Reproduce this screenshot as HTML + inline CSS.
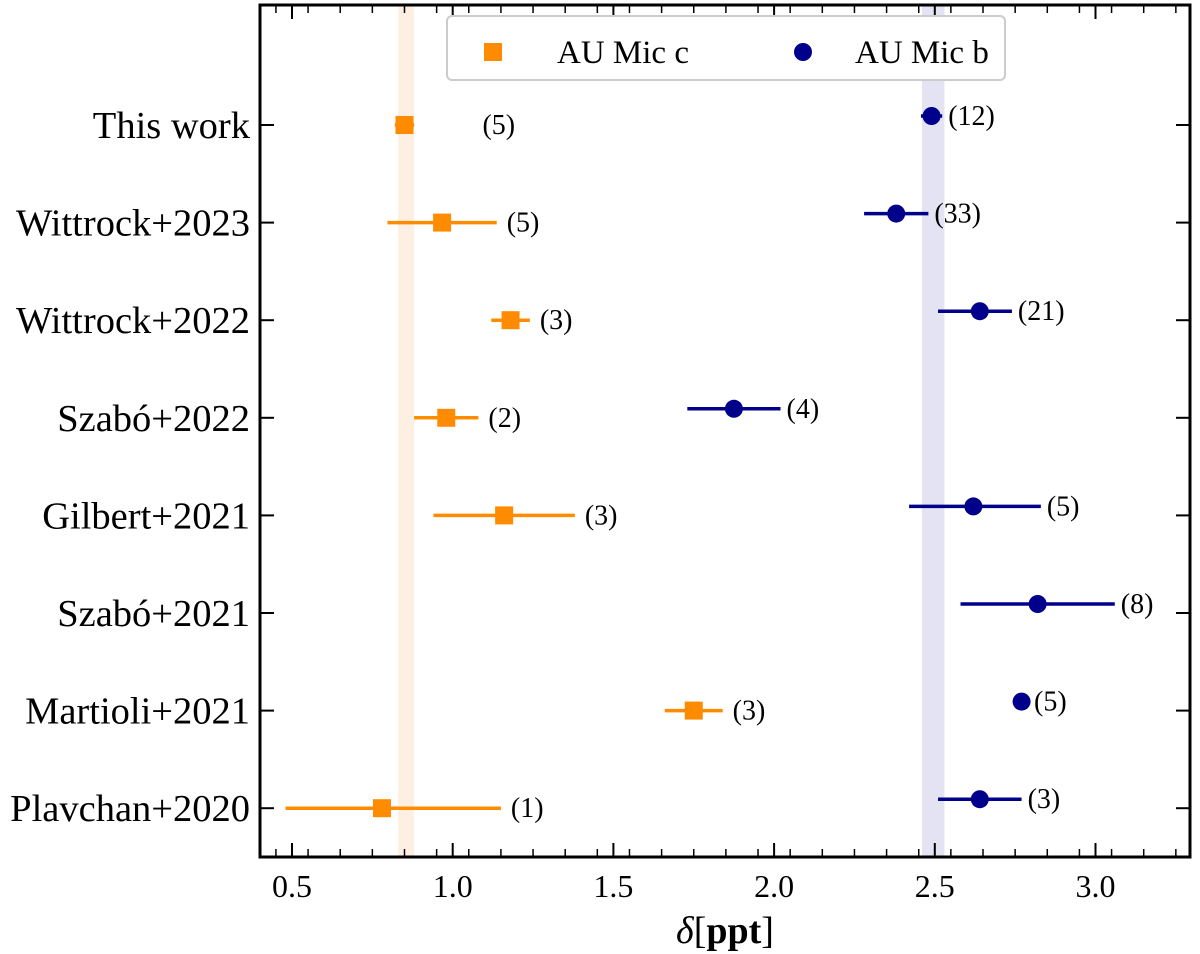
<!DOCTYPE html>
<html><head><meta charset="utf-8">
<style>
body{margin:0;background:#fff;}
svg{display:block;font-family:"Liberation Serif",serif;}
</style></head>
<body>
<svg id="chart" width="1200" height="954" viewBox="0 0 1200 954">
<g id="bands"></g>
<g id="marks"></g>
<g id="axes"></g>
</svg>
<script>
const studies = ["This work","Wittrock+2023","Wittrock+2022","Szabó+2022","Gilbert+2021","Szabó+2021","Martioli+2021","Plavchan+2020"];
const cVal = [0.85,0.967,1.18,0.98,1.16,1.75,0.78];
const cLo  = [0.03,0.17,0.06,0.10,0.22,0.09,0.30];
const cHi  = [0.03,0.17,0.06,0.10,0.22,0.09,0.37];
const cN   = ["(5)","(5)","(3)","(2)","(3)","(3)","(1)"];
const cRows = [0,1,2,3,4,6,7];
const bVal = [2.49,2.38,2.64,1.875,2.62,2.82,2.77,2.64];
const bLo  = [0.033,0.10,0.13,0.145,0.20,0.24,0.02,0.13];
const bHi  = [0.033,0.10,0.10,0.145,0.21,0.24,0.02,0.13];
const bN   = ["(12)","(33)","(21)","(4)","(5)","(8)","(5)","(3)"];
const cBand = [0.83,0.88];
const bBand = [2.46,2.53];
const xTicks = [0.5,1.0,1.5,2.0,2.5,3.0];

const NS="http://www.w3.org/2000/svg";
const L=260,R=1190,T=5,B=857;
const x=v=>292+(v-0.5)*321.4;
const y=i=>125+i*97.6;
function mk(tag,attrs,parent){const e=document.createElementNS(NS,tag);for(const k in attrs)e.setAttribute(k,attrs[k]);parent.appendChild(e);return e;}
const bands=document.getElementById('bands'),marks=document.getElementById('marks'),axes=document.getElementById('axes');

let e=mk('rect',{x:x(cBand[0]),y:T,width:x(cBand[1])-x(cBand[0]),height:B-T,fill:'#fdf0e2'},bands);


e=mk('rect',{x:x(bBand[0]),y:T,width:x(bBand[1])-x(bBand[0]),height:B-T,fill:'#e3e3f3'},bands);



cVal.forEach((v,k)=>{
  const yy=y(cRows[k]);
  let l=mk('line',{x1:x(v-cLo[k]),x2:x(v+cHi[k]),y1:yy,y2:yy,stroke:'#ff8c00','stroke-width':3.5},marks);
  
  
  let s=mk('rect',{x:x(v)-9,y:yy-9,width:18,height:18,fill:'#ff8c00'},marks);
  
  
  const lx = k===0 ? x(v)+78 : x(v+cHi[k])+10;
  let t=mk('text',{x:lx,y:yy+9,'font-size':28},marks);t.textContent=cN[k];
  
  
});
bVal.forEach((v,k)=>{
  const yy=y(k)-9;
  let l=mk('line',{x1:x(v-bLo[k]),x2:x(v+bHi[k]),y1:yy,y2:yy,stroke:'#00008b','stroke-width':3.5},marks);
  
  
  let c=mk('circle',{cx:x(v),cy:yy,r:9,fill:'#00008b'},marks);
  
  
  let t=mk('text',{x:x(v+bHi[k])+6,y:yy+9,'font-size':28},marks);t.textContent=bN[k];
  
  
});

let f=mk('rect',{x:L,y:T,width:R-L,height:B-T,fill:'none',stroke:'#000','stroke-width':3},axes);


for(let v=0.45;v<=3.3;v+=0.1){
  const xv=x(Math.round(v*100)/100);
  if(xv<L||xv>R)continue;
  mk('line',{x1:xv,x2:xv,y1:B,y2:B-8,stroke:'#000','stroke-width':1.5},axes);
  mk('line',{x1:xv,x2:xv,y1:T,y2:T+8,stroke:'#000','stroke-width':1.5},axes);
}
xTicks.forEach(v=>{
  mk('line',{x1:x(v),x2:x(v),y1:B,y2:B-14,stroke:'#000','stroke-width':2},axes);
  mk('line',{x1:x(v),x2:x(v),y1:T,y2:T+14,stroke:'#000','stroke-width':2},axes);
  let t=mk('text',{x:x(v),y:897,'font-size':32,'text-anchor':'middle'},axes);t.textContent=v.toFixed(1);
  
  
});
studies.forEach((s,i)=>{
  mk('line',{x1:L,x2:L+14,y1:y(i),y2:y(i),stroke:'#000','stroke-width':2},axes);
  mk('line',{x1:R,x2:R-14,y1:y(i),y2:y(i),stroke:'#000','stroke-width':2},axes);
  let t=mk('text',{x:250,y:y(i)+13,'font-size':38.5,'text-anchor':'end'},axes);t.textContent=s;
  
  
});
let xt=mk('text',{x:725,y:943,'font-size':38,'text-anchor':'middle'},axes);
xt.innerHTML='<tspan font-style="italic">δ</tspan>[<tspan font-weight="bold">ppt</tspan>]';



const lg=mk('g',{},axes);


mk('rect',{x:447,y:16,width:558,height:64,rx:5,fill:'#fff',stroke:'#ccc','stroke-width':2},lg);
let le=mk('g',{},lg);


mk('rect',{x:484,y:43,width:18,height:18,fill:'#ff8c00'},le);
let lt=mk('text',{x:557,y:63,'font-size':33},le);lt.textContent='AU Mic c';
let le2=mk('g',{},lg);


mk('circle',{cx:803,cy:52,r:9,fill:'#00008b'},le2);
lt=mk('text',{x:855,y:63,'font-size':33},le2);lt.textContent='AU Mic b';
</script>
</body></html>
